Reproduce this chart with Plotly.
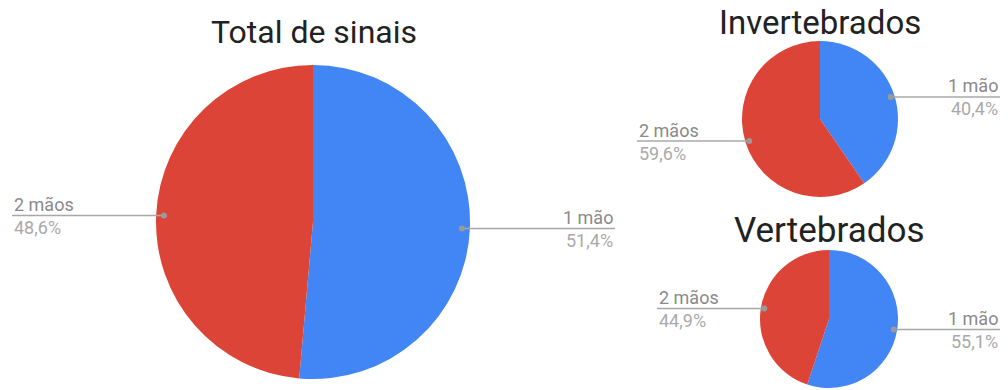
import math
import plotly.graph_objects as go

# Share of signs made with one or two hands
categories = ["1 mão", "2 mãos"]
total_values = [51.4, 48.6]
invert_values = [40.4, 59.6]
vert_values = [55.1, 44.9]
titles = ["Total de sinais", "Invertebrados", "Vertebrados"]

W, H = 1008, 390
BLUE, RED = "#4285F4", "#DB4437"
LABEL_C, PCT_C, LINE_C = "#8a8a8a", "#a9a9a9", "#a8a8a8"
FONT = "Roboto"


def fx(px):
    return min(max(px / W, 0), 1)


def fy(py):
    return min(max(1 - py / H, 0), 1)


# pie geometry in pixels: centre x, centre y, radius
pies = [
    dict(values=total_values, cx=313, cy=222, r=157, title=titles[0], tcx=314, ty=32,
         tsize=32, left_x=12, right_x=615),
    dict(values=invert_values, cx=820, cy=119, r=78, title=titles[1], tcx=820, ty=22,
         tsize=33, left_x=637, right_x=1000),
    dict(values=vert_values, cx=829, cy=319, r=69, title=titles[2], tcx=829, ty=230,
         tsize=35, left_x=657, right_x=1000),
]

fig = go.Figure()
shapes = []
annotations = []

for p in pies:
    cx, cy, r = p["cx"], p["cy"], p["r"]
    fig.add_trace(go.Pie(
        labels=categories,
        values=p["values"],
        sort=False,
        direction="clockwise",
        rotation=0,
        textinfo="none",
        hoverinfo="label+percent",
        marker=dict(colors=[BLUE, RED], line=dict(width=0)),
        domain=dict(x=[fx(cx - r), fx(cx + r)], y=[fy(cy + r), fy(cy - r)]),
        showlegend=False,
    ))
    annotations.append(dict(
        x=fx(p["tcx"]), y=fy(p["ty"]), xref="paper", yref="paper",
        text=p["title"], showarrow=False, xanchor="center", yanchor="middle",
        font=dict(family=FONT, size=p["tsize"], color="#222222"),
    ))

    # leader line for each slice, anchored at the slice's mid-angle
    total = sum(p["values"])
    cum = 0.0
    for label, v in zip(categories, p["values"]):
        mid = (cum + v / 2) / total * 2 * math.pi
        cum += v
        dx = 0.95 * r * math.sin(mid)
        dy = -0.95 * r * math.cos(mid)
        px, py = cx + dx, cy + dy
        pct = f"{v:.1f}%".replace(".", ",")
        if dx >= 0:
            x0, x1, anchor, tx = px, p["right_x"], "right", p["right_x"]
        else:
            x0, x1, anchor, tx = p["left_x"], px, "left", p["left_x"]
        shapes.append(dict(type="line", xref="paper", yref="paper",
                           x0=fx(x0), x1=fx(x1), y0=fy(py), y1=fy(py),
                           line=dict(color=LINE_C, width=1.6)))
        shapes.append(dict(type="circle", xref="paper", yref="paper",
                           x0=fx(px - 3), x1=fx(px + 3), y0=fy(py + 3), y1=fy(py - 3),
                           fillcolor="#9a9a9a", line=dict(width=0)))
        annotations.append(dict(
            x=fx(tx), y=fy(py - 11), xref="paper", yref="paper", text=label,
            showarrow=False, xanchor=anchor, yanchor="middle",
            font=dict(family=FONT, size=18, color=LABEL_C),
        ))
        annotations.append(dict(
            x=fx(tx), y=fy(py + 12), xref="paper", yref="paper", text=pct,
            showarrow=False, xanchor=anchor, yanchor="middle",
            font=dict(family=FONT, size=18, color=PCT_C),
        ))

fig.update_layout(
    width=W, height=H,
    margin=dict(l=0, r=0, t=0, b=0),
    paper_bgcolor="white", plot_bgcolor="white",
    shapes=shapes, annotations=annotations,
)

fig.write_html("out.html")
